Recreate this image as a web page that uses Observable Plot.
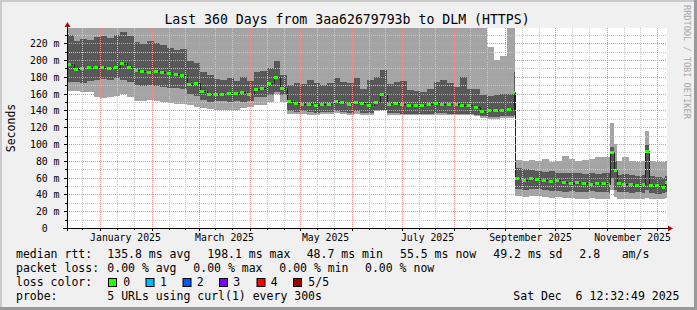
<!DOCTYPE html>
<html><head><meta charset="utf-8">
<script src="https://cdn.jsdelivr.net/npm/d3@7"></script>
<script src="https://cdn.jsdelivr.net/npm/@observablehq/plot@0.6"></script>
<style>
html,body{margin:0;padding:0;background:#f0f0f0;}
#chart{width:697px;height:310px;overflow:hidden;}
svg text{font-family:"DejaVu Sans Mono",monospace;}
</style></head><body><div id="chart"></div>
<script>
// ---- data ----
const startDate = "2024-12-12";
const endDate = "2025-12-07";
// day offsets from startDate where each step begins
const days = [0,4,8,12,16,20,24,28,32,36,40,44,48,52,56,60,64,68,72,76,80,84,88,92,96,100,104,108,112,116,120,124,128,132,136,140,144,148,152,156,160,164,168,172,176,180,184,188,192,196,200,204,208,212,216,220,224,228,232,236,240,244,248,252,256,260,264,
  268,269,273,277,281,285,289,293,297,301,305,309,313,317,321,325,326,328,330,333,337,341,345,347,349,353,357,359,361];
const median = [195,189,190,192,192,191,190,192,196,191,188,187,186,187,186,185,183,182,171,172,163,159,159,160,161,161,162,160,166,167,172,180,167,151,149,148,147,146,147,148,151,150,148,150,149,146,150,160,147,149,148,146,146,146,147,149,148,148,147,146,146,144,139,140,141,141,142,
  162,59,57,60,58,57,56,57,55,54,55,53,52,53,53,52,91,69,53,52,52,51,52,92,51,51,49,55,55];
const darkHi = [230,223,225,224,227,229,226,230,233,228,221,219,222,220,218,214,212,213,199,196,186,182,177,176,179,175,180,175,186,187,190,199,182,170,172,171,176,173,170,172,178,174,172,178,166,176,180,188,171,174,175,164,163,162,165,174,176,172,168,180,166,165,158,157,158,159,160,
  186,71,70,69,68,67,68,66,65,66,65,64,65,64,66,65,96,80,63,64,63,62,63,99,62,61,60,62,62];
const darkLo = [174,174,173,175,176,177,176,178,176,174,170,169,170,169,168,167,167,166,160,157,152,150,151,151,150,151,150,151,156,156,158,162,158,139,138,139,138,137,138,138,139,138,137,139,137,137,140,141,137,137,136,136,136,136,136,137,137,136,136,136,136,135,133,132,132,133,133,
  135,46,45,46,46,45,44,44,43,44,43,43,44,43,43,42,60,45,43,43,42,43,42,45,42,41,42,43,43];
const lightLo = [163,163,162,162,156,155,156,157,160,156,151,151,152,151,150,149,148,148,146,144,143,142,141,141,140,141,143,144,146,146,150,160,150,136,136,136,135,135,136,136,137,136,135,136,135,135,139,140,135,135,134,134,134,134,134,135,135,134,134,134,134,133,131,130,130,131,131,
  132,38,37,38,38,37,36,37,36,36,35,35,36,35,34,35,45,37,35,35,34,35,35,36,34,35,35,36,36];
const lightHi = [250,250,250,250,250,250,250,250,250,250,250,250,250,250,250,250,250,250,250,250,250,250,250,250,250,250,250,250,250,250,250,250,250,250,250,250,250,250,250,250,250,250,250,250,250,250,250,250,250,250,250,250,250,250,250,250,250,250,250,250,250,250,250,215,200,205,250,
  250,81,80,81,80,82,79,80,86,82,80,81,82,84,85,84,125,100,80,84,80,79,80,115,80,79,78,80,80];

const yMajor = [20,40,60,80,100,120,140,160,180,200,220];
const yMinor = [10,30,50,70,90,110,130,150,170,190,210,230];
const yLabels = [0,20,40,60,80,100,120,140,160,180,200,220];
const xMajor = ["2025-01-01","2025-02-01","2025-03-01","2025-04-01","2025-05-01","2025-06-01","2025-07-01","2025-08-01","2025-09-01","2025-10-01","2025-11-01","2025-12-01"];
const xMinor = ["2024-12-21","2025-01-11","2025-01-21","2025-02-11","2025-02-21","2025-03-11","2025-03-21","2025-04-11","2025-04-21","2025-05-11","2025-05-21","2025-06-11","2025-06-21","2025-07-11","2025-07-21","2025-08-11","2025-08-21","2025-09-11","2025-09-21","2025-10-11","2025-10-21","2025-11-11","2025-11-21"];
const xLabelDates = ["2025-01-16","2025-03-16","2025-05-16","2025-07-16","2025-09-16","2025-11-16"];

const titleText = "Last 360 Days from 3aa62679793b to DLM (HTTPS)";
const yTitle = "Seconds";
const watermark = "RRDTOOL / TOBI OETIKER";
const legendRows = [
  [["median rtt:",16],["135.8 ms avg",107.3],["198.1 ms max",207.3],["48.7 ms min",306.7],["55.5 ms now",400],["49.2 ms sd",493.3],["2.8",579.3],["am/s",621.7]],
  [["packet loss:",16],["0.00 % avg",107.3],["0.00 % max",193.3],["0.00 % min",279.3],["0.00 % now",365]],
  [["loss color:",16]],
  [["probe:",16],["5 URLs using curl(1) every 300s",107.3],["Sat Dec  6 12:32:49 2025",513.3]]
];
const lossLabels = ["0","1","2","3","4","5/5"];
const lossColors = ["#26ff00","#00b8ff","#0059ff","#7e00ff","#ff0000","#a10000"];
const lossBoxX = [108.5,146,183,219.5,257,293.5];
const lossLabelX = [123.3,160,196.7,233.3,270.7,308.3];

// ---- build ----
const t0 = new Date(startDate + "T00:00Z");
const rows = days.map((d, i) => ({
  date: new Date(+t0 + d * 864e5),
  median: median[i], darkHi: darkHi[i], darkLo: darkLo[i], lightLo: lightLo[i], lightHi: lightHi[i]
}));
const segs = rows.slice(0, -1).map((r, i) => ({...r, next: rows[i + 1].date}));
const U = s => new Date(s + "T00:00Z");

const chart = Plot.plot({
  width: 697, height: 310,
  marginLeft: 67, marginRight: 30, marginTop: 28, marginBottom: 82,
  style: {background: "#f0f0f0", fontFamily: "DejaVu Sans Mono", fontSize: "9.8px", color: "#000", overflow: "visible"},
  x: {type: "utc", domain: [t0, U(endDate)], label: null, round: true},
  y: {domain: [0, 238], label: null, round: true},
  marks: [
    Plot.areaY(rows, {x: "date", y1: "lightLo", y2: "lightHi", fill: "#a4a4a4", curve: "step-after", clip: true}),
    Plot.areaY(rows, {x: "date", y1: "darkLo", y2: "darkHi", fill: "#585858", curve: "step-after", clip: true}),
    Plot.lineY(rows, {x: "date", y: "median", stroke: "#202020", strokeWidth: 1, curve: "step-after", clip: true}),
    Plot.ruleY(segs, {y: "median", x1: "date", x2: "next", stroke: "#26ff00", strokeWidth: 3, strokeDasharray: "4,2.5", clip: true}),
    Plot.ruleY(yMinor, {stroke: "#c8c8c8", strokeDasharray: "1,1"}),
    Plot.ruleX(xMinor.map(U), {stroke: "#c8c8c8", strokeDasharray: "1,1"}),
    Plot.ruleY(yMajor, {stroke: "#f08c8c", strokeDasharray: "1,1"}),
    Plot.ruleX(xMajor.map(U), {stroke: "#f08c8c", strokeDasharray: "1,1"}),
    Plot.axisY({ticks: yLabels, tickSize: 3, tickPadding: 5, fontSize: 9.8,
      tickFormat: d => d === 0 ? "0\u00a0\u00a0" : d + " m"}),
    Plot.axisY({ticks: yMinor, tickSize: 2, tickFormat: () => ""}),
    Plot.axisX({ticks: xLabelDates.map(U), tickSize: 0, tickPadding: 6, fontSize: 9.8,
      tickFormat: d3.utcFormat("%B %Y")}),
    Plot.axisX({ticks: xMajor.map(U), tickSize: 3, tickFormat: () => ""}),
    Plot.axisX({ticks: xMinor.map(U), tickSize: 2, tickFormat: () => ""})
  ]
});
document.getElementById("chart").appendChild(chart);

const svg = d3.select(chart);
const sx = chart.scale("x"), sy = chart.scale("y");
const xL = sx.apply(t0), xR = sx.apply(U(endDate));
const yB = sy.apply(0), yT = sy.apply(238);

// canvas under the marks
svg.insert("rect", ":first-child").attr("x", xL).attr("y", yT).attr("width", xR - xL).attr("height", yB - yT).attr("fill", "#fff");

// axis lines and arrows
svg.append("line").attr("x1", xL - 4).attr("x2", xR + 2).attr("y1", yB + 0.5).attr("y2", yB + 0.5).attr("stroke", "#000");
svg.append("line").attr("x1", xL + 0.5).attr("x2", xL + 0.5).attr("y1", yB + 3).attr("y2", yT - 3).attr("stroke", "#000");
svg.append("path").attr("d", `M${xR + 1},${yB - 2.5}L${xR + 6},${yB + 0.5}L${xR + 1},${yB + 3.5}Z`).attr("fill", "#a01010");
svg.append("path").attr("d", `M${xL - 2.5},${yT - 1}L${xL + 0.5},${yT - 6}L${xL + 3.5},${yT - 1}Z`).attr("fill", "#a01010");

// title
svg.append("text").attr("x", 347).attr("y", 24).attr("text-anchor", "middle").attr("font-size", 13.2).attr("fill", "#000").text(titleText);
// y title
svg.append("text").attr("transform", "translate(15,128) rotate(-90)").attr("text-anchor", "middle").attr("font-size", 11.5).attr("fill", "#000").text(yTitle);
// watermark
svg.append("text").attr("transform", "translate(684,5) rotate(90)").attr("text-anchor", "start").attr("font-size", 8.6).attr("fill", "#a8a8a8").text(watermark);

// legend
const baselines = [258.3, 272.3, 286.3, 300];
legendRows.forEach((row, r) => {
  row.forEach(([t, x]) => {
    svg.append("text").attr("x", x).attr("y", baselines[r]).attr("text-anchor", "start").attr("font-size", 11.5).attr("fill", "#000")
      .style("white-space", "pre").text(t);
  });
});
lossLabels.forEach((l, i) => {
  svg.append("rect").attr("x", lossBoxX[i]).attr("y", 278.5).attr("width", 8).attr("height", 8)
    .attr("fill", lossColors[i]).attr("stroke", "#000").attr("stroke-width", 1);
  svg.append("text").attr("x", lossLabelX[i]).attr("y", baselines[2]).attr("text-anchor", "start").attr("font-size", 11.5).attr("fill", "#000").text(l);
});

// frame shading
svg.append("rect").attr("x", 0).attr("y", 0).attr("width", 697).attr("height", 2).attr("fill", "#cbcbcb");
svg.append("rect").attr("x", 0).attr("y", 0).attr("width", 2).attr("height", 310).attr("fill", "#cbcbcb");
svg.append("rect").attr("x", 0).attr("y", 307).attr("width", 697).attr("height", 3).attr("fill", "#999");
svg.append("rect").attr("x", 694).attr("y", 0).attr("width", 3).attr("height", 310).attr("fill", "#999");
</script></body></html>
